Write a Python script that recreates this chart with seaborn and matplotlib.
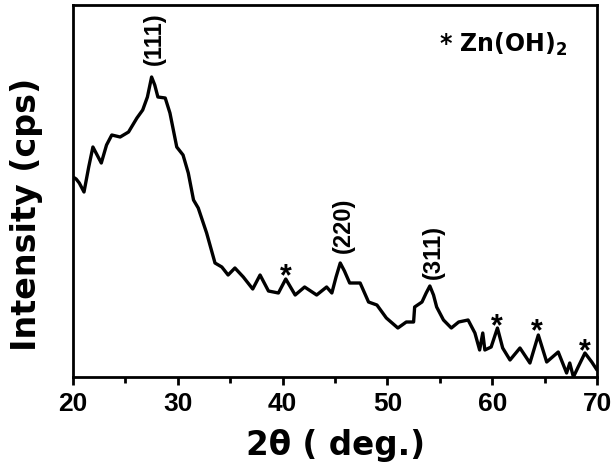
import matplotlib
matplotlib.use("Agg")
import matplotlib.pyplot as plt
import seaborn as sns
import pandas as pd
from matplotlib.ticker import MultipleLocator

two_theta = [20.0, 20.3, 20.6, 21.05, 21.5, 21.9, 22.3, 22.7, 23.2, 23.7, 24.5, 25.3, 26.1, 26.65, 27.1,
             27.5, 27.8, 28.1, 28.8, 29.25, 29.9, 30.5, 31.0, 31.5, 31.95, 32.75, 33.55, 34.2, 34.8,
             35.45, 36.25, 37.15, 37.85, 38.65, 39.6, 40.3, 41.2, 42.1, 43.25, 44.2, 44.7, 45.1, 45.5,
             45.9, 46.4, 47.4, 48.2, 49.0, 49.9, 51.0, 51.8, 52.5, 52.6, 53.3, 53.7, 54.05, 54.4, 54.7,
             55.35, 56.1, 56.8, 57.7, 58.35, 58.8, 59.1, 59.3, 59.9, 60.5, 61.0, 61.7, 62.65, 63.6,
             64.4, 65.2, 66.3, 67.1, 67.4, 67.75, 68.2, 68.85, 69.5, 70.0]
intensity = [200, 198, 194, 185, 210, 230, 222, 214, 232, 242, 240, 245, 259, 267, 280,
             300, 292, 280, 279, 264, 230, 222, 204, 177, 169, 144, 114, 110, 102,
             109, 100, 88, 102, 86, 84, 98, 82, 90, 82, 90, 84, 100, 114,
             106, 94, 94, 75, 72, 59, 49, 55, 55, 70, 75, 84, 91, 82, 70,
             57, 49, 55, 57, 44, 27, 44, 27, 30, 49, 29, 17, 29, 14,
             42, 15, 25, 4, 14, 0, 10, 24, 15, 7]

planes = ["(111)", "(220)", "(311)"]
plane_pos = [(27.8, 338), (45.8, 152), (54.35, 125)]
star_pos = [(40.3, 109), (60.45, 59), (64.3, 54), (68.8, 34)]
xticks = [20, 30, 40, 50, 60, 70]

df = pd.DataFrame({"two_theta": two_theta, "intensity": intensity})

sns.set_style("ticks")
plt.rcParams["font.family"] = ["Liberation Sans", "DejaVu Sans"]
plt.rcParams["mathtext.fontset"] = "custom"
plt.rcParams["mathtext.bf"] = "DejaVu Sans:bold"
plt.rcParams["mathtext.rm"] = "DejaVu Sans"
for k in ["text.color", "axes.labelcolor", "xtick.color", "ytick.color", "axes.edgecolor"]:
    plt.rcParams[k] = "black"

fig = plt.figure(figsize=(6.11, 4.67), dpi=100)
ax = fig.add_axes([73 / 611, 1 - 377 / 467, (597 - 73) / 611, (377 - 5) / 467])

sns.lineplot(data=df, x="two_theta", y="intensity", ax=ax, color="black", linewidth=2.4)

ax.set_xlim(20, 70)
ax.set_ylim(0, 372)
ax.set_xticks(xticks)
ax.xaxis.set_minor_locator(MultipleLocator(5))
ax.set_yticks([])
ax.tick_params(axis="x", which="major", direction="out", length=6, width=2, labelsize=19, pad=5)
ax.tick_params(axis="x", which="minor", direction="out", length=4, width=2)
for lab in ax.get_xticklabels():
    lab.set_fontweight("bold")
for s in ax.spines.values():
    s.set_linewidth(2)
    s.set_visible(True)

ax.set_xlabel("2θ ( deg.)", fontsize=23.5, fontweight="bold", family="DejaVu Sans")
ax.xaxis.set_label_coords(0.5, -0.14)
ax.set_ylabel("Intensity (cps)", fontsize=24, fontweight="bold", family="DejaVu Sans")
ax.yaxis.set_label_coords(-0.057, 0.438)

for name, (x, y) in zip(planes, plane_pos):
    ax.text(x, y, name, rotation=90, ha="center", va="center", fontsize=17, fontweight="bold")
for (x, y) in star_pos:
    ax.annotate("*", (x, y), xytext=(0, -0.57 * 22), textcoords="offset points",
                ha="center", va="baseline", fontsize=22, fontweight="bold")

ax.text(0.943, 0.874, r"* Zn(OH)$_\mathbf{2}$", transform=ax.transAxes, ha="right", va="baseline",
        fontsize=17, fontweight="bold", family="DejaVu Sans")

fig.savefig("out.png", dpi=100)
